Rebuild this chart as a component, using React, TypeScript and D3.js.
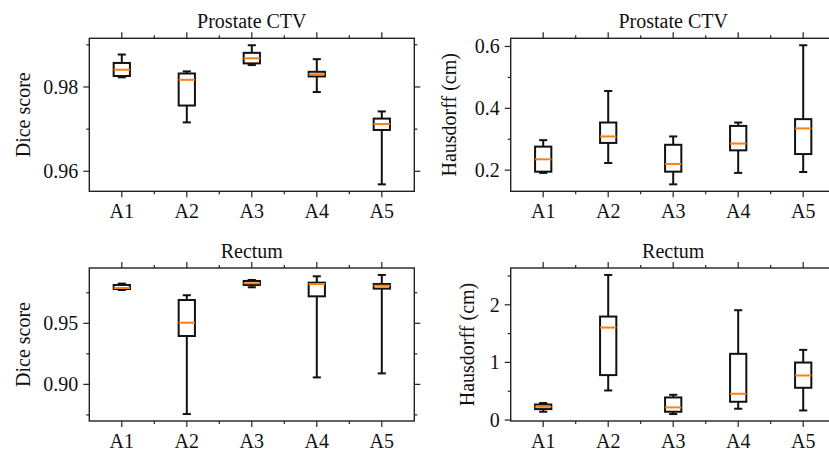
import React from "react";
import * as d3 from "d3";

// Box statistics per category: [lowerWhisker, q1, median, q3, upperWhisker]
const categories = ["A1", "A2", "A3", "A4", "A5"];

const prostateDice: number[][] = [
  [0.9823, 0.9826, 0.9841, 0.9857, 0.9877],
  [0.9716, 0.9756, 0.9817, 0.9832, 0.9837],
  [0.9852, 0.9856, 0.9868, 0.9881, 0.9899],
  [0.9788, 0.9825, 0.983, 0.9836, 0.9866],
  [0.9569, 0.9698, 0.9712, 0.9725, 0.9742],
];
const prostateHd: number[][] = [
  [0.191, 0.195, 0.235, 0.276, 0.297],
  [0.223, 0.288, 0.309, 0.354, 0.456],
  [0.154, 0.195, 0.22, 0.282, 0.309],
  [0.191, 0.264, 0.286, 0.343, 0.354],
  [0.194, 0.252, 0.335, 0.365, 0.604],
];
const rectumDice: number[][] = [
  [0.9773, 0.9781, 0.9789, 0.9814, 0.9825],
  [0.8757, 0.9396, 0.9505, 0.9691, 0.973],
  [0.9795, 0.9814, 0.9828, 0.9847, 0.9855],
  [0.9057, 0.9721, 0.9822, 0.9833, 0.9885],
  [0.909, 0.9784, 0.9808, 0.9822, 0.9896],
];
const rectumHd: number[][] = [
  [0.144, 0.19, 0.23, 0.27, 0.295],
  [0.513, 0.78, 1.605, 1.796, 2.518],
  [0.104, 0.144, 0.219, 0.392, 0.438],
  [0.196, 0.317, 0.456, 1.149, 1.906],
  [0.166, 0.56, 0.773, 0.998, 1.218],
];

const prostateDiceTicks = [0.96, 0.98];
const prostateDiceMinor = [0.97, 0.99];
const prostateHdTicks = [0.2, 0.4, 0.6];
const prostateHdMinor = [0.3, 0.5];
const rectumDiceTicks = [0.9, 0.95];
const rectumDiceMinor = [0.875, 0.925, 0.975];
const rectumHdTicks = [0, 1, 2];
const rectumHdMinor = [0.5, 1.5, 2.5];

const W = 829;
const H = 452;
const FONT = "'Liberation Serif', 'Times New Roman', serif";
const FS = 20;
const ORANGE = "#ff7f0e";

type PanelProps = {
  data: number[][];
  ticks: number[];
  minor: number[];
  fmt: (v: number) => string;
  title: string;
  ylabel: string;
  left: number;
  top: number;
  width: number;
  height: number;
  ylabelX: number;
};

function Panel(p: PanelProps) {
  const x = d3.scaleLinear().domain([0.5, 5.5]).range([p.left, p.left + p.width]);
  const lo = d3.min(p.data, (d) => d[0]) as number;
  const hi = d3.max(p.data, (d) => d[4]) as number;
  const m = (hi - lo) * 0.05;
  const y = d3.scaleLinear().domain([lo - m, hi + m]).range([p.top + p.height, p.top]);
  const right = p.left + p.width;
  const bottom = p.top + p.height;
  const MAJ = 6;
  const MIN = 3;
  const xMinor = [1.5, 2.5, 3.5, 4.5];
  const boxW = x(0.75) - x(0.5);
  const capW = boxW / 2;
  return (
    <g>
      {p.data.map((d, i) => {
        const cx = x(i + 1);
        return (
          <g key={i} stroke="#111" strokeWidth={2} fill="none">
            <line x1={cx} x2={cx} y1={y(d[3])} y2={y(d[4])} />
            <line x1={cx} x2={cx} y1={y(d[1])} y2={y(d[0])} />
            <line x1={cx - capW / 2} x2={cx + capW / 2} y1={y(d[4])} y2={y(d[4])} />
            <line x1={cx - capW / 2} x2={cx + capW / 2} y1={y(d[0])} y2={y(d[0])} />
            <rect x={cx - boxW / 2} y={y(d[3])} width={boxW} height={y(d[1]) - y(d[3])} />
            <line x1={cx - boxW / 2} x2={cx + boxW / 2} y1={y(d[2])} y2={y(d[2])} stroke={ORANGE} />
          </g>
        );
      })}
      <rect x={p.left} y={p.top} width={p.width} height={p.height} fill="none" stroke="#222" strokeWidth={1.4} />
      <g stroke="#222" strokeWidth={1.2}>
        {categories.map((c, i) => (
          <g key={c}>
            <line x1={x(i + 1)} x2={x(i + 1)} y1={bottom} y2={bottom + MAJ} />
            <line x1={x(i + 1)} x2={x(i + 1)} y1={p.top} y2={p.top - MAJ} />
          </g>
        ))}
        {xMinor.map((v) => (
          <g key={v}>
            <line x1={x(v)} x2={x(v)} y1={bottom} y2={bottom + MIN} />
            <line x1={x(v)} x2={x(v)} y1={p.top} y2={p.top - MIN} />
          </g>
        ))}
        {p.ticks.map((v) => (
          <g key={v}>
            <line x1={p.left} x2={p.left - MAJ} y1={y(v)} y2={y(v)} />
            <line x1={right} x2={right + MAJ} y1={y(v)} y2={y(v)} />
          </g>
        ))}
        {p.minor.map((v) => (
          <g key={v}>
            <line x1={p.left} x2={p.left - MIN} y1={y(v)} y2={y(v)} />
            <line x1={right} x2={right + MIN} y1={y(v)} y2={y(v)} />
          </g>
        ))}
      </g>
      <g fontFamily={FONT} fontSize={FS} fill="#111">
        {categories.map((c, i) => (
          <text key={c} x={x(i + 1)} y={bottom + 26.5} textAnchor="middle">
            {c}
          </text>
        ))}
        {p.ticks.map((v) => (
          <text key={v} x={p.left - 11} y={y(v)} textAnchor="end" dominantBaseline="central">
            {p.fmt(v)}
          </text>
        ))}
        <text x={(p.left + right) / 2} y={p.top - 10} textAnchor="middle">
          {p.title}
        </text>
        <text
          x={p.ylabelX}
          y={(p.top + bottom) / 2}
          textAnchor="middle"
          transform={`rotate(-90, ${p.ylabelX}, ${(p.top + bottom) / 2})`}
        >
          {p.ylabel}
        </text>
      </g>
    </g>
  );
}

export default function App() {
  const colLeft = [89.3, 510.7];
  const rowTop = [38.3, 268];
  const pw = 325;
  const ph = 153;
  return (
    <div style={{ position: "absolute", left: 0, top: 0 }}>
      <svg width={W} height={H} style={{ display: "block", background: "white" }}>
        <Panel
          data={prostateDice}
          ticks={prostateDiceTicks}
          minor={prostateDiceMinor}
          fmt={d3.format(".2f")}
          title="Prostate CTV"
          ylabel="Dice score"
          left={colLeft[0]}
          top={rowTop[0]}
          width={pw}
          height={ph}
          ylabelX={30}
        />
        <Panel
          data={prostateHd}
          ticks={prostateHdTicks}
          minor={prostateHdMinor}
          fmt={d3.format(".1f")}
          title="Prostate CTV"
          ylabel="Hausdorff (cm)"
          left={colLeft[1]}
          top={rowTop[0]}
          width={pw}
          height={ph}
          ylabelX={456}
        />
        <Panel
          data={rectumDice}
          ticks={rectumDiceTicks}
          minor={rectumDiceMinor}
          fmt={d3.format(".2f")}
          title="Rectum"
          ylabel="Dice score"
          left={colLeft[0]}
          top={rowTop[1]}
          width={pw}
          height={ph}
          ylabelX={30}
        />
        <Panel
          data={rectumHd}
          ticks={rectumHdTicks}
          minor={rectumHdMinor}
          fmt={d3.format("d")}
          title="Rectum"
          ylabel="Hausdorff (cm)"
          left={colLeft[1]}
          top={rowTop[1]}
          width={pw}
          height={ph}
          ylabelX={474}
        />
      </svg>
    </div>
  );
}
